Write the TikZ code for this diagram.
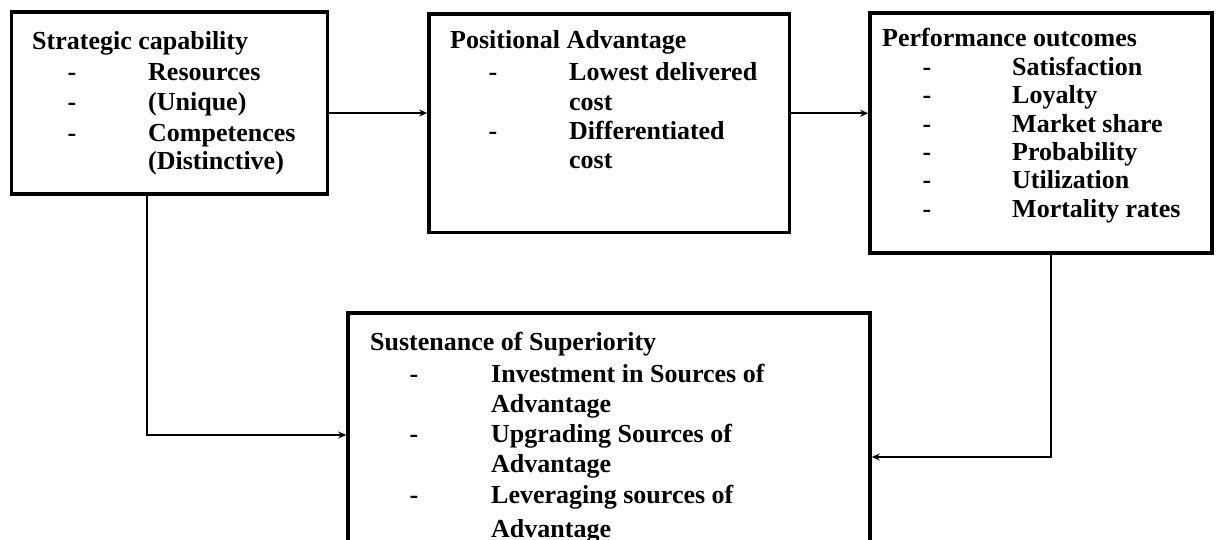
\documentclass[tikz,border=0pt]{standalone}
\usepackage{fontspec}
\setmainfont{Liberation Serif}
\usetikzlibrary{arrows.meta}
\begin{document}
\begin{tikzpicture}[x=1pt,y=-1pt,
  boxnode/.style={draw=black, line width=3.6pt, rectangle, inner sep=0pt},
  arr/.style={draw=black, line width=1.8pt, -{Stealth[length=8pt,width=7pt]}},
  txt/.style={anchor=base west, inner sep=0pt, font=\fontsize{26}{28}\selectfont\bfseries},
  dsh/.style={anchor=base, inner sep=0pt, font=\fontsize{26}{28}\selectfont\bfseries}]
\useasboundingbox (0,0) rectangle (1219,539);
\fill[white] (0,0) rectangle (1219,539);
% boxes
\node[boxnode, minimum width=316pt, minimum height=182pt] (A) at (169.5,103) {};
\node[boxnode, minimum width=360.5pt, minimum height=218.5pt] (B) at (609.25,123.25) {};
\node[boxnode, minimum width=342pt, minimum height=240pt] (C) at (1041,133) {};
\begin{scope}
\clip (0,0) rectangle (1219,539);
\node[boxnode, minimum width=522pt, minimum height=257pt] (D) at (609,441.5) {};
% texts of D
\node[txt] (d0) at (370,350) {Sustenance of Superiority};
\node[dsh] (d1m) at (414,382) {-};
\node[txt] (d1) at (491,382) {Investment in Sources of};
\node[txt] (d2) at (491,412) {Advantage};
\node[dsh] (d3m) at (414,442) {-};
\node[txt] (d3) at (491,442) {Upgrading Sources of};
\node[txt] (d4) at (491,472) {Advantage};
\node[dsh] (d5m) at (414,503) {-};
\node[txt] (d5) at (491,503) {Leveraging sources of};
\node[txt] (d6) at (491,537) {Advantage};
\end{scope}
% texts of A
\node[txt] (a0) at (32,49) {Strategic capability};
\node[dsh] (a1m) at (72,80) {-};
\node[txt] (a1) at (148,80) {Resources};
\node[dsh] (a2m) at (72,110) {-};
\node[txt] (a2) at (148,110) {(Unique)};
\node[dsh] (a3m) at (72,141) {-};
\node[txt] (a3) at (148,141) {Competences};
\node[txt] (a4) at (148,169) {(Distinctive)};
% texts of B
\node[txt] (b0) at (450,48) {Positional Advantage};
\node[dsh] (b1m) at (493,80) {-};
\node[txt] (b1) at (569,80) {Lowest delivered};
\node[txt] (b2) at (569,110) {cost};
\node[dsh] (b3m) at (493,139) {-};
\node[txt] (b3) at (569,139) {Differentiated};
\node[txt] (b4) at (569,168) {cost};
% texts of C
\node[txt] (c0) at (882,46) {Performance outcomes};
\node[dsh] (c1m) at (927,75) {-};
\node[txt] (c1) at (1012,75) {Satisfaction};
\node[dsh] (c2m) at (927,103) {-};
\node[txt] (c2) at (1012,103) {Loyalty};
\node[dsh] (c3m) at (927,132) {-};
\node[txt] (c3) at (1012,132) {Market share};
\node[dsh] (c4m) at (927,160) {-};
\node[txt] (c4) at (1012,160) {Probability};
\node[dsh] (c5m) at (927,188) {-};
\node[txt] (c5) at (1012,188) {Utilization};
\node[dsh] (c6m) at (927,217) {-};
\node[txt] (c6) at (1012,217) {Mortality rates};
% connectors
\draw[arr] ([yshift=-10pt]A.east) -- ([yshift=-10pt]A.east -| B.west);
\draw[arr] ([yshift=10pt]B.east) -- ([yshift=10pt]B.east -| C.west);
\draw[arr] ([xshift=-22.5pt]A.south) |- ([yshift=6.5pt]D.west);
\draw[arr] ([xshift=10pt]C.south) |- ([yshift=-15.5pt]D.east);
\end{tikzpicture}
\end{document}
